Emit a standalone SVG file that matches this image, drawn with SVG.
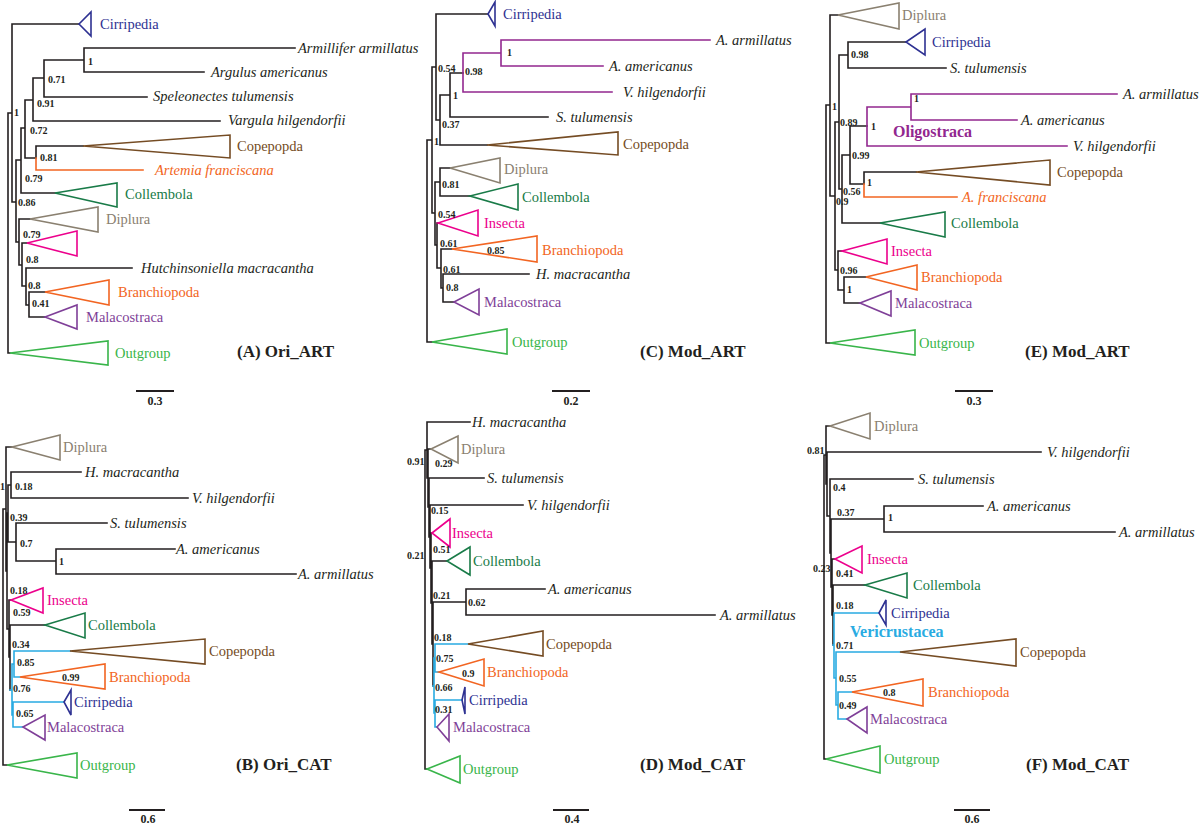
<svg xmlns="http://www.w3.org/2000/svg" width="1200" height="829" viewBox="0 0 1200 829">
<style>
.b{fill:none;stroke:#231f20;stroke-width:1.6;stroke-linecap:square}
.cy{fill:none;stroke:#29abe2;stroke-width:1.6;stroke-linecap:square}
.pu{fill:none;stroke:#92278f;stroke-width:1.6;stroke-linecap:square}
.or{fill:none;stroke:#f26522;stroke-width:1.6;stroke-linecap:square}
polygon{fill:none;stroke-width:1.6}
text{font-family:"Liberation Serif","Times New Roman",serif}
.tx{font-size:14.5px}
.it{font-size:14.5px;font-style:italic;fill:#231f20}
.bs{font-size:10px;font-weight:bold;fill:#231f20}
.ti{font-size:17px;font-weight:bold;fill:#231f20}
.sc{font-size:12px;font-weight:bold;fill:#231f20;text-anchor:middle}
.bar{stroke:#231f20;stroke-width:2}
.cir polygon{stroke:#2e3192}.cir text{fill:#2e3192}
.cop polygon{stroke:#754c24}.cop text{fill:#754c24}
.col polygon{stroke:#197b48}.col text{fill:#197b48}
.dip polygon{stroke:#8a8070}.dip text{fill:#8a8070}
.ins polygon{stroke:#ec008c}.ins text{fill:#ec008c}
.bra polygon{stroke:#f26522}.bra text{fill:#f26522}
.mal polygon{stroke:#7f3f98}.mal text{fill:#7f3f98}
.out polygon{stroke:#39b54a}.out text{fill:#39b54a}
.orl{fill:#f26522}
</style>
<rect width="1200" height="829" fill="#ffffff"/>

<!-- ================= Panel A ================= -->
<g id="panelA">
<g id="A-connectors">
<path class="b" d="M8,113V353 M8,353H10 M8,113H12 M12,24V202 M12,24H79 M12,202H16 M16,160V242 M16,160H21 M21,128V193 M21,128H25 M21,193H55 M25,100V158 M25,100H33 M25,158H36 M33,78V121 M33,78H44 M33,121H220 M44,60V97 M44,60H84 M44,97H147 M84,48V72 M84,48H295 M84,72H204 M36,146V158 M36,146H83 M16,242H19 M19,219V265 M19,219H30 M19,265H22 M22,243V286 M22,243H27 M22,286H26 M26,268V305 M26,268H132 M26,305H29 M29,292V317 M29,292H45 M29,317H45"/>
<path class="or" d="M36,158V170H143"/>
</g>
<g id="A-cirripedia" class="cir"><polygon points="79,24 91,12 91,36"/><text class="tx" x="100" y="29">Cirripedia</text></g>
<g id="A-armillifer"><text class="it" x="298" y="53">Armillifer armillatus</text></g>
<g id="A-argulus"><text class="it" x="211" y="77">Argulus americanus</text></g>
<g id="A-speleonectes"><text class="it" x="153" y="101">Speleonectes tulumensis</text></g>
<g id="A-vargula"><text class="it" x="228" y="125">Vargula hilgendorfii</text></g>
<g id="A-copepoda" class="cop"><polygon points="83,146 230,135 230,158"/><text class="tx" x="237" y="151">Copepopda</text></g>
<g id="A-artemia"><text class="it orl" x="155" y="175">Artemia franciscana</text></g>
<g id="A-collembola" class="col"><polygon points="55,193 117,183 117,207"/><text class="tx" x="125" y="199">Collembola</text></g>
<g id="A-diplura" class="dip"><polygon points="30,219 98,207 98,232"/><text class="tx" x="106" y="224">Diplura</text></g>
<g id="A-insecta" class="ins"><polygon points="27,243 77,231 77,256"/></g>
<g id="A-hutchinsoniella"><text class="it" x="141" y="273">Hutchinsoniella macracantha</text></g>
<g id="A-branchiopoda" class="bra"><polygon points="45,292 109,280 109,305"/><text class="tx" x="118" y="297">Branchiopoda</text></g>
<g id="A-malacostraca" class="mal"><polygon points="45,317 77,305 77,329"/><text class="tx" x="86" y="322">Malacostraca</text></g>
<g id="A-outgroup" class="out"><polygon points="10,353 108,341 108,365"/><text class="tx" x="115" y="358">Outgroup</text></g>
<g id="A-support">
<text class="bs" x="14" y="116">1</text>
<text class="bs" x="88" y="65">1</text>
<text class="bs" x="48" y="83">0.71</text>
<text class="bs" x="37" y="107">0.91</text>
<text class="bs" x="30" y="134">0.72</text>
<text class="bs" x="40" y="161">0.81</text>
<text class="bs" x="25" y="182">0.79</text>
<text class="bs" x="18" y="206">0.86</text>
<text class="bs" x="23" y="238">0.79</text>
<text class="bs" x="26" y="263">0.8</text>
<text class="bs" x="28" y="289">0.8</text>
<text class="bs" x="32" y="307">0.41</text>
</g>
<g id="A-title"><text class="ti" x="237" y="357">(A) Ori_ART</text></g>
<g id="A-scale"><line class="bar" x1="136" y1="391" x2="174" y2="391"/><text class="sc" x="155" y="405">0.3</text></g>
</g>

<!-- ================= Panel C ================= -->
<g id="panelC">
<g id="C-connectors">
<path class="b" d="M427,140V342 M427,342H432 M427,140H432 M432,67V213 M432,67H436 M432,213H435 M436,14V120 M436,14H488 M436,120H440 M440,95V145 M440,95H450 M440,145H487 M450,73V117 M450,73H463 M450,117H548 M435,182V245 M435,182H440 M435,245H437 M440,168V196 M440,168H450 M440,196H470 M437,223V268 M437,223H438 M437,268H441 M441,249V288 M441,249H452 M441,288H443 M443,274V302 M443,274H529 M443,302H454"/>
<path class="pu" d="M463,53V92 M463,53H501 M463,92H612 M501,40V66 M501,40H710 M501,66H603"/>
</g>
<g id="C-cirripedia" class="cir"><polygon points="488,14 495,2 495,26"/><text class="tx" x="503" y="19">Cirripedia</text></g>
<g id="C-aarm"><text class="it" x="716" y="45">A. armillatus</text></g>
<g id="C-aam"><text class="it" x="609" y="71">A. americanus</text></g>
<g id="C-vhil"><text class="it" x="623" y="97">V. hilgendorfii</text></g>
<g id="C-stul"><text class="it" x="556" y="122">S. tulumensis</text></g>
<g id="C-copepoda" class="cop"><polygon points="487,145 618,132 618,155"/><text class="tx" x="623" y="149">Copepopda</text></g>
<g id="C-diplura" class="dip"><polygon points="450,168 500,158 500,183"/><text class="tx" x="504" y="174">Diplura</text></g>
<g id="C-collembola" class="col"><polygon points="470,196 518,184 518,210"/><text class="tx" x="522" y="202">Collembola</text></g>
<g id="C-insecta" class="ins"><polygon points="438,223 478,210 478,236"/><text class="tx" x="484" y="228">Insecta</text></g>
<g id="C-branchiopoda" class="bra"><polygon points="452,249 537,236 537,262"/><text class="tx" x="542" y="255">Branchiopoda</text></g>
<g id="C-hmac"><text class="it" x="536" y="279">H. macracantha</text></g>
<g id="C-malacostraca" class="mal"><polygon points="454,302 479,289 479,315"/><text class="tx" x="484" y="307">Malacostraca</text></g>
<g id="C-outgroup" class="out"><polygon points="432,342 507,329 507,354"/><text class="tx" x="512" y="347">Outgroup</text></g>
<g id="C-support">
<text class="bs" x="438" y="72">0.54</text>
<text class="bs" x="465" y="75">0.98</text>
<text class="bs" x="507" y="56">1</text>
<text class="bs" x="453" y="99">1</text>
<text class="bs" x="442" y="128">0.37</text>
<text class="bs" x="434" y="145">1</text>
<text class="bs" x="442" y="188">0.81</text>
<text class="bs" x="438" y="218">0.54</text>
<text class="bs" x="440" y="247">0.61</text>
<text class="bs" x="487" y="254">0.85</text>
<text class="bs" x="443" y="273">0.61</text>
<text class="bs" x="446" y="291">0.8</text>
</g>
<g id="C-title"><text class="ti" x="640" y="357">(C) Mod_ART</text></g>
<g id="C-scale"><line class="bar" x1="552" y1="391" x2="590" y2="391"/><text class="sc" x="571" y="405">0.2</text></g>
</g>

<!-- ================= Panel E ================= -->
<g id="panelE">
<g id="E-connectors">
<path class="b" d="M826,105V343 M826,343H830 M826,105H830 M830,15V196 M830,15H838 M830,196H835 M835,122V270 M835,122H839 M835,270H838 M839,55V189 M839,55H848 M839,189H842 M848,42V68 M848,42H906 M848,68H946 M842,155V223 M842,155H850 M842,223H880 M850,126V184 M850,126H867 M850,184H864 M864,172V184 M864,172H916 M838,251V290 M838,251H842 M838,290H844 M844,277V303 M844,277H866 M844,303H860"/>
<path class="pu" d="M867,107V146 M867,107H911 M867,146H1067 M911,94V120 M911,94H1117 M911,120H1017"/>
<path class="or" d="M864,184V197H957"/>
</g>
<g id="E-diplura" class="dip"><polygon points="838,15 899,3 899,29"/><text class="tx" x="902" y="20">Diplura</text></g>
<g id="E-cirripedia" class="cir"><polygon points="906,42 925,29 925,55"/><text class="tx" x="932" y="47">Cirripedia</text></g>
<g id="E-stul"><text class="it" x="950" y="73">S. tulumensis</text></g>
<g id="E-aarm"><text class="it" x="1123" y="99">A. armillatus</text></g>
<g id="E-aam"><text class="it" x="1021" y="125">A. americanus</text></g>
<g id="E-oligostraca"><text x="893" y="137" font-size="16" font-weight="bold" fill="#92278f">Oligostraca</text></g>
<g id="E-vhil"><text class="it" x="1073" y="151">V. hilgendorfii</text></g>
<g id="E-copepoda" class="cop"><polygon points="916,172 1050,160 1050,185"/><text class="tx" x="1057" y="177">Copepopda</text></g>
<g id="E-afra"><text class="it orl" x="962" y="202">A. franciscana</text></g>
<g id="E-collembola" class="col"><polygon points="880,223 945,212 945,237"/><text class="tx" x="951" y="228">Collembola</text></g>
<g id="E-insecta" class="ins"><polygon points="842,251 887,239 887,264"/><text class="tx" x="891" y="256">Insecta</text></g>
<g id="E-branchiopoda" class="bra"><polygon points="866,277 917,265 917,290"/><text class="tx" x="921" y="282">Branchiopoda</text></g>
<g id="E-malacostraca" class="mal"><polygon points="860,303 891,291 891,316"/><text class="tx" x="895" y="308">Malacostraca</text></g>
<g id="E-outgroup" class="out"><polygon points="830,343 915,330 915,355"/><text class="tx" x="919" y="348">Outgroup</text></g>
<g id="E-support">
<text class="bs" x="832" y="110">1</text>
<text class="bs" x="851" y="58">0.98</text>
<text class="bs" x="914" y="102">1</text>
<text class="bs" x="840" y="126">0.89</text>
<text class="bs" x="871" y="130">1</text>
<text class="bs" x="852" y="159">0.99</text>
<text class="bs" x="867" y="186">1</text>
<text class="bs" x="843" y="195">0.56</text>
<text class="bs" x="836" y="205">0.9</text>
<text class="bs" x="840" y="274">0.96</text>
<text class="bs" x="847" y="293">1</text>
</g>
<g id="E-title"><text class="ti" x="1025" y="357">(E) Mod_ART</text></g>
<g id="E-scale"><line class="bar" x1="955" y1="391" x2="993" y2="391"/><text class="sc" x="974" y="405">0.3</text></g>
</g>

<!-- ================= Panel B ================= -->
<g id="panelB">
<g id="B-connectors">
<path class="b" d="M3,509V765 M3,765H7 M3,509H6 M6,447V571 M6,447H12 M6,571H7 M7,513V629 M7,513H8 M7,629H9 M8,485V542 M8,485H11 M8,542H16 M11,472V498 M11,472H81 M11,498H188 M16,523V561 M16,523H107 M16,561H56 M56,549V574 M56,549H175 M56,574H296 M9,600V657 M9,600H11 M9,657H10 M10,625V690 M10,625H45"/>
<path class="cy" d="M10,690H12 M12,664V715 M12,664H14 M12,715H13 M14,651V677 M14,651H70 M14,677H20 M13,702V727 M13,702H64 M13,727H23"/>
</g>
<g id="B-diplura" class="dip"><polygon points="12,447 60,435 60,460"/><text class="tx" x="63" y="452">Diplura</text></g>
<g id="B-hmac"><text class="it" x="85" y="477">H. macracantha</text></g>
<g id="B-vhil"><text class="it" x="192" y="503">V. hilgendorfii</text></g>
<g id="B-stul"><text class="it" x="110" y="528">S. tulumensis</text></g>
<g id="B-aam"><text class="it" x="176" y="554">A. americanus</text></g>
<g id="B-aarm"><text class="it" x="298" y="579">A. armillatus</text></g>
<g id="B-insecta" class="ins"><polygon points="11,600 43,588 43,613"/><text class="tx" x="47" y="605">Insecta</text></g>
<g id="B-collembola" class="col"><polygon points="45,625 85,613 85,638"/><text class="tx" x="88" y="630">Collembola</text></g>
<g id="B-copepoda" class="cop"><polygon points="70,651 205,639 205,664"/><text class="tx" x="209" y="656">Copepopda</text></g>
<g id="B-branchiopoda" class="bra"><polygon points="20,677 105,664 105,689"/><text class="tx" x="109" y="682">Branchiopoda</text></g>
<g id="B-cirripedia" class="cir"><polygon points="64,702 71,690 71,715"/><text class="tx" x="74" y="707">Cirripedia</text></g>
<g id="B-malacostraca" class="mal"><polygon points="23,727 45,715 45,740"/><text class="tx" x="47" y="732">Malacostraca</text></g>
<g id="B-outgroup" class="out"><polygon points="7,765 77,753 77,778"/><text class="tx" x="80" y="770">Outgroup</text></g>
<g id="B-support">
<text class="bs" x="0" y="490">1</text>
<text class="bs" x="15" y="490">0.18</text>
<text class="bs" x="10" y="521">0.39</text>
<text class="bs" x="20" y="547">0.7</text>
<text class="bs" x="59" y="565">1</text>
<text class="bs" x="10" y="594">0.18</text>
<text class="bs" x="13" y="616">0.59</text>
<text class="bs" x="12" y="648">0.34</text>
<text class="bs" x="17" y="666">0.85</text>
<text class="bs" x="62" y="681">0.99</text>
<text class="bs" x="13" y="692">0.76</text>
<text class="bs" x="16" y="717">0.65</text>
</g>
<g id="B-title"><text class="ti" x="236" y="770">(B) Ori_CAT</text></g>
<g id="B-scale"><line class="bar" x1="129" y1="810" x2="165" y2="810"/><text class="sc" x="148" y="823">0.6</text></g>
</g>

<!-- ================= Panel D ================= -->
<g id="panelD">
<g id="D-connectors">
<path class="b" d="M425,450V769 M425,769H427 M425,450H427 M427,422V478 M427,422H470 M427,478H428 M428,449V507 M428,449H431 M428,507H429 M429,478V537 M429,478H484 M429,537H430 M430,505V568 M430,505H523 M430,568H431 M431,533V603 M431,533H432 M431,603H432 M432,561V644 M432,561H447 M432,644H433 M433,602V686 M433,602H466 M466,589V615 M466,589H545 M466,615H715"/>
<path class="cy" d="M433,686H434 M434,658V713 M434,658H435 M434,713H435 M435,644V672 M435,644H468 M435,672H439 M435,700V727 M435,700H462 M435,727H437"/>
</g>
<g id="D-hmac"><text class="it" x="472" y="427">H. macracantha</text></g>
<g id="D-diplura" class="dip"><polygon points="431,449 458,436 458,463"/><text class="tx" x="461" y="454">Diplura</text></g>
<g id="D-stul"><text class="it" x="487" y="483">S. tulumensis</text></g>
<g id="D-vhil"><text class="it" x="527" y="510">V. hilgendorfii</text></g>
<g id="D-insecta" class="ins"><polygon points="432,533 450,519 450,547"/><text class="tx" x="452" y="538">Insecta</text></g>
<g id="D-collembola" class="col"><polygon points="447,561 470,547 470,575"/><text class="tx" x="473" y="566">Collembola</text></g>
<g id="D-aam"><text class="it" x="548" y="594">A. americanus</text></g>
<g id="D-aarm"><text class="it" x="720" y="620">A. armillatus</text></g>
<g id="D-copepoda" class="cop"><polygon points="468,644 543,631 543,656"/><text class="tx" x="546" y="649">Copepopda</text></g>
<g id="D-branchiopoda" class="bra"><polygon points="439,672 484,659 484,686"/><text class="tx" x="487" y="677">Branchiopoda</text></g>
<g id="D-cirripedia" class="cir"><polygon points="462,700 465,687 465,714" fill="#2e3192"/><text class="tx" x="469" y="705">Cirripedia</text></g>
<g id="D-malacostraca" class="mal"><polygon points="437,727 449,714 449,741"/><text class="tx" x="453" y="732">Malacostraca</text></g>
<g id="D-outgroup" class="out"><polygon points="427,769 460,756 460,783"/><text class="tx" x="463" y="774">Outgroup</text></g>
<g id="D-support">
<text class="bs" x="407" y="465">0.91</text>
<text class="bs" x="435" y="467">0.29</text>
<text class="bs" x="431" y="514">0.15</text>
<text class="bs" x="433" y="553">0.51</text>
<text class="bs" x="407" y="559">0.21</text>
<text class="bs" x="433" y="599">0.21</text>
<text class="bs" x="468" y="606">0.62</text>
<text class="bs" x="434" y="641">0.18</text>
<text class="bs" x="436" y="662">0.75</text>
<text class="bs" x="462" y="677">0.9</text>
<text class="bs" x="435" y="691">0.66</text>
<text class="bs" x="435" y="713">0.31</text>
</g>
<g id="D-title"><text class="ti" x="640" y="770">(D) Mod_CAT</text></g>
<g id="D-scale"><line class="bar" x1="553" y1="810" x2="589" y2="810"/><text class="sc" x="572" y="823">0.4</text></g>
</g>

<!-- ================= Panel F ================= -->
<g id="panelF">
<g id="F-connectors">
<path class="b" d="M824,455V759 M824,759H826 M824,455H826 M826,426V484 M826,426H830 M826,484H827 M827,452V516 M827,452H1041 M827,516H830 M830,479V553 M830,479H913 M830,553H831 M831,519V587 M831,519H884 M831,587H832 M884,506V532 M884,506H983 M884,532H1115 M832,559V615 M832,559H835 M832,615H833 M833,585V645 M833,585H865"/>
<path class="cy" d="M833,645H834 M834,613V678 M834,613H879 M834,678H836 M836,652V705 M836,652H900 M836,705H838 M838,692V719 M838,692H852 M838,719H847"/>
</g>
<g id="F-diplura" class="dip"><polygon points="830,426 870,413 870,439"/><text class="tx" x="874" y="431">Diplura</text></g>
<g id="F-vhil"><text class="it" x="1047" y="457">V. hilgendorfii</text></g>
<g id="F-stul"><text class="it" x="918" y="484">S. tulumensis</text></g>
<g id="F-aam"><text class="it" x="987" y="511">A. americanus</text></g>
<g id="F-aarm"><text class="it" x="1119" y="537">A. armillatus</text></g>
<g id="F-insecta" class="ins"><polygon points="835,559 862,546 862,573"/><text class="tx" x="867" y="564">Insecta</text></g>
<g id="F-collembola" class="col"><polygon points="865,585 907,573 907,598"/><text class="tx" x="913" y="590">Collembola</text></g>
<g id="F-cirripedia" class="cir"><polygon points="879,613 886,600 886,625"/><text class="tx" x="891" y="618">Cirripedia</text></g>
<g id="F-vericrustacea"><text x="850" y="637" font-size="16" font-weight="bold" fill="#29abe2">Vericrustacea</text></g>
<g id="F-copepoda" class="cop"><polygon points="900,652 1016,639 1016,666"/><text class="tx" x="1020" y="657">Copepopda</text></g>
<g id="F-branchiopoda" class="bra"><polygon points="852,692 923,679 923,706"/><text class="tx" x="928" y="697">Branchiopoda</text></g>
<g id="F-malacostraca" class="mal"><polygon points="847,719 867,707 867,733"/><text class="tx" x="870" y="724">Malacostraca</text></g>
<g id="F-outgroup" class="out"><polygon points="826,759 880,746 880,773"/><text class="tx" x="884" y="764">Outgroup</text></g>
<g id="F-support">
<text class="bs" x="807" y="454">0.81</text>
<text class="bs" x="833" y="491">0.4</text>
<text class="bs" x="837" y="516">0.37</text>
<text class="bs" x="888" y="521">1</text>
<text class="bs" x="813" y="572">0.23</text>
<text class="bs" x="836" y="577">0.41</text>
<text class="bs" x="836" y="609">0.18</text>
<text class="bs" x="836" y="649">0.71</text>
<text class="bs" x="839" y="682">0.55</text>
<text class="bs" x="883" y="696">0.8</text>
<text class="bs" x="839" y="709">0.49</text>
</g>
<g id="F-title"><text class="ti" x="1026" y="770">(F) Mod_CAT</text></g>
<g id="F-scale"><line class="bar" x1="954" y1="810" x2="990" y2="810"/><text class="sc" x="972" y="823">0.6</text></g>
</g>
</svg>
